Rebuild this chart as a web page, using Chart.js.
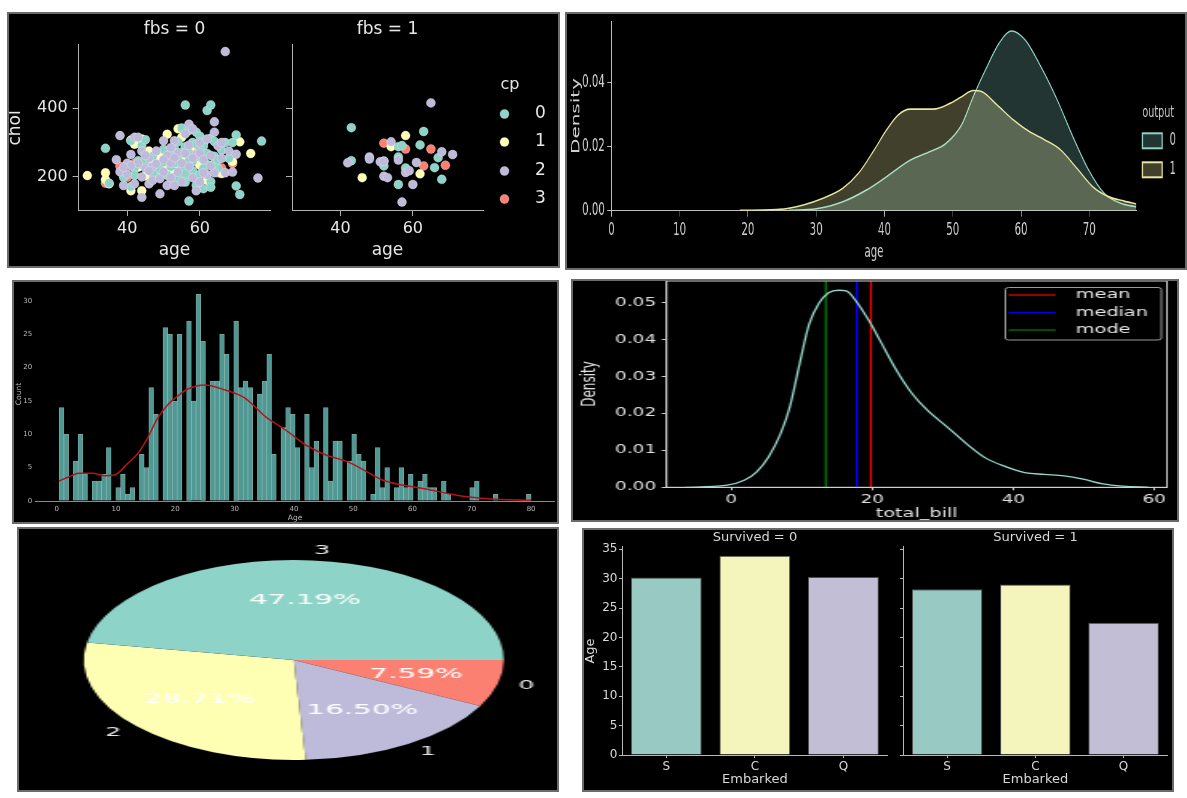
<!DOCTYPE html>
<html>
<head>
<meta charset="utf-8">
<script src="https://cdn.jsdelivr.net/npm/chart.js@4.4.1/dist/chart.umd.min.js"></script>
<style>
  html, body { margin: 0; padding: 0; background: #fff; width: 1187px; height: 798px; overflow: hidden; }
  .panel { position: absolute; background: #000; overflow: hidden; }
  .panel::after { content: ''; position: absolute; left: 0; top: 0; right: 0; bottom: 0; border: 2px solid #6b6b6b; pointer-events: none; }
  .panel canvas { position: absolute; left: 0; top: 0; transform-origin: 0 0; }
</style>
</head>
<body>
<div class="panel" style="left:7px;top:12px;width:553px;height:256px">
  <canvas id="fbs0" width="553" height="256"></canvas>
  <canvas id="fbs1" width="553" height="256"></canvas>
</div>
<div class="panel" style="left:565px;top:12px;width:622px;height:258px">
  <canvas id="ageKde" width="1037" height="258" style="transform:scaleX(0.6)"></canvas>
</div>
<div class="panel" style="left:12px;top:280px;width:547px;height:244px">
  <canvas id="ageHist" width="547" height="244"></canvas>
</div>
<div class="panel" style="left:571px;top:279px;width:608px;height:243px">
  <canvas id="billKde" width="380" height="243" style="transform:scaleX(1.6)"></canvas>
</div>
<div class="panel" style="left:17px;top:527px;width:542px;height:265px">
  <canvas id="pie" width="258" height="265" style="transform:scaleX(2.1)"></canvas>
</div>
<div class="panel" style="left:582px;top:528px;width:592px;height:264px">
  <canvas id="died" width="592" height="264"></canvas>
  <canvas id="surv" width="592" height="264"></canvas>
</div>
<script>
// ---------- data ----------
// heart: age vs chol, split by fbs, coloured by cp  ([age, chol])
const cpNames = ['0', '1', '2', '3'];
const cpColors = ['#8dd3c7', '#ffffb3', '#bebada', '#fb8072'];
const fbs0Cp0 = [[34,283],[35,182],[39,199],[41,172],[41,305],[42,226],[43,247],[44,290],[44,235],[45,308],
  [46,228],[47,260],[48,200],[49,222],[50,243],[51,265],[51,205],[52,230],[53,282],[53,200],
  [54,255],[54,302],[55,226],[55,342],[56,409],[56,288],[56,185],[57,130],[57,335],[57,270],
  [58,218],[58,300],[58,245],[59,176],[59,330],[60,258],[60,207],[61,166],[61,290],[62,393],
  [63,409],[62,236],[63,312],[63,186],[64,260],[64,303],[65,225],[66,278],[67,300],[68,254],
  [69,300],[70,322],[70,174],[71,149],[77,304],[63,170],[60,318],
  [50,280],[52,262],[53,240],[55,270],[57,248],[58,262],[59,295],[60,280],[61,225],[62,268],
  [64,240],[65,250],[54,195],[56,210],[45,248],[47,212],[42,205]];
const fbs0Cp1 = [[29,204],[34,212],[34,192],[35,180],[41,307],[41,160],[42,295],[44,160],[44,310],[45,203],
  [46,275],[48,220],[49,260],[51,324],[52,215],[53,195],[54,340],[55,315],[56,250],[57,220],
  [58,290],[60,235],[61,300],[62,190],[66,210],[69,245],[71,302],[74,268],
  [50,230],[54,235],[56,285],[57,258],[59,245],[47,245],[43,228]];
const fbs0Cp2 = [[37,250],[38,215],[38,320],[39,175],[40,208],[40,240],[41,265],[42,315],[42,180],[43,240],
  [43,315],[44,141],[44,275],[45,225],[46,180],[46,255],[47,230],[47,190],[48,275],[49,151],
  [49,195],[50,305],[50,215],[51,175],[51,262],[52,240],[52,198],[53,305],[54,214],[54,270],
  [55,185],[56,325],[57,353],[57,230],[58,198],[58,340],[59,264],[60,185],[60,270],[61,250],
  [62,206],[63,262],[64,330],[64,212],[64,360],[65,290],[66,254],[67,564],[67,212],[68,275],
  [69,214],[70,266],[76,197],[59,160],[53,175],[45,263],
  [46,218],[48,238],[50,250],[52,285],[53,256],[55,240],[56,268],[57,292],[58,255],[60,300],
  [61,212],[63,232],[66,300],[44,200],[41,232],[39,228],[62,310]];
const fbs0Cp3 = [[34,182],[38,231],[40,199],[42,240],[45,263],[51,209],[52,185],[56,195],[58,283],[59,260],
  [59,205],[60,234],[61,240],[64,226],[66,226],[69,239],[65,212],[59,288],[54,262],[57,225],[48,252]];
const fbs1Cp0 = [[43,343],[43,247],[52,232],[52,246],[56,288],[57,291],[56,258],[58,226],[56,178],[62,293],
  [63,332],[66,227],[67,256],[68,193]];
const fbs1Cp1 = [[46,198],[54,288],[58,320],[62,209]];
const fbs1Cp2 = [[42,241],[48,258],[48,252],[51,244],[52,202],[53,198],[54,302],[56,249],[58,213],[59,218],
  [60,178],[57,127],[61,242],[65,415],[68,273],[71,265],[52,245]];
const fbs1Cp3 = [[52,298],[58,281],[63,232],[65,281],[69,234]];

// heart: age density by output
const outputNames = ['0', '1'];
const out0Age = [26, 30, 33.9, 37.4, 40.3, 43.8, 46.6, 49, 51.3, 53, 54.8, 56.8, 58.6, 60.6, 62.9, 65.3, 67.6, 69.9, 72.2, 74.6, 76.9];
const out0Density = [0.0001, 0.0006, 0.0028, 0.0065, 0.0106, 0.0158, 0.0184, 0.0210, 0.0268, 0.0356, 0.0440, 0.0523, 0.0561, 0.0533, 0.0450, 0.0346, 0.0231, 0.0127, 0.0054, 0.0023, 0.0012];
const out1Age = [18.8, 24.6, 28.1, 31, 33.9, 36.2, 38.5, 40.3, 42, 43.8, 47.2, 49.6, 51.3, 53, 54.2, 56.5, 58.9, 61.2, 63.5, 65.8, 68.2, 70.5, 72.8, 75.1, 76.9];
const out1Density = [0.0001, 0.0004, 0.0018, 0.0039, 0.0070, 0.0117, 0.0190, 0.0252, 0.0299, 0.0317, 0.0317, 0.0335, 0.0356, 0.0375, 0.0372, 0.0330, 0.0283, 0.0247, 0.0221, 0.0190, 0.0132, 0.0075, 0.0044, 0.0030, 0.0021];

// titanic: Age histogram, 100 bins from 0.42 to 80, plus kde
const ageMin = 0.42, ageMax = 80;
const ageCounts = [
  14, 10, 0, 6, 10, 4, 0, 3, 3, 4,
  8, 0, 2, 4, 1, 2, 0, 7, 5, 17,
  13, 0, 26, 25, 15, 25, 0, 27, 15, 31,
  24, 0, 18, 18, 25, 22, 0, 27, 17, 18,
  17, 0, 16, 18, 22, 7, 0, 11, 14, 13,
  8, 0, 13, 5, 9, 0, 14, 3, 9, 9,
  0, 6, 10, 7, 6, 0, 1, 8, 2, 5,
  0, 2, 5, 2, 4, 0, 3, 4, 2, 2,
  0, 3, 1, 0, 0, 0, 0, 2, 3, 0,
  0, 0, 1, 0, 0, 0, 0, 0, 0, 1];
const kdeAge = [0.42, 2, 3.7, 6, 8.1, 9.5, 10.3, 12, 13.7, 15.3, 17, 18.7, 20.4, 22.1, 25, 28.4, 31.8, 35.2, 38.6, 42, 45.4, 49, 52.8, 54.9, 58.3, 62.3, 66.3, 70, 73.3, 80];
const kdeCount = [3.0, 3.6, 4.15, 4.15, 3.8, 3.85, 4.15, 5.65, 7.15, 9.4, 12.4, 14.4, 15.75, 16.8, 17.4, 16.65, 15.4, 12.65, 10.65, 8.4, 6.9, 5.9, 4.15, 3.15, 2.4, 1.8, 1.05, 0.55, 0.3, 0.1];

// tips: total_bill density with mean / median / mode
const billX = [-6.5, -0.8, 1.9, 3.6, 5.3, 7.0, 8.3, 9.7, 11.0, 12.4, 13.8, 15.2, 16.3, 17.6, 19.6, 21.2, 23.4, 25.6, 27.8, 30.6, 33.3, 36.1, 38.9, 41.6, 44.4, 47.2, 49.9, 52.7, 55.5, 59.2];
const billDensity = [0.0000, 0.0005, 0.0020, 0.0042, 0.0083, 0.0146, 0.0218, 0.0336, 0.0440, 0.0498, 0.0527, 0.0534, 0.0532, 0.0507, 0.0449, 0.0394, 0.0318, 0.0255, 0.0209, 0.0164, 0.0119, 0.0079, 0.0056, 0.0040, 0.0035, 0.0031, 0.0022, 0.0009, 0.0003, 0.0000];
const statNames = ['mean', 'median', 'mode'];
const statValues = [19.8, 17.8, 13.4];
const statColors = ['#ff0000', '#0000ff', '#008000'];

// pie shares
const pieNames = ['0', '1', '2', '3'];
const pieShares = [7.59, 16.50, 28.71, 47.19];
const pieColors = ['#fb8072', '#bebada', '#ffffb3', '#8dd3c7'];

// titanic: mean Age by Embarked, split by Survived
const embarked = ['S', 'C', 'Q'];
const ageDied = [30.2, 33.9, 30.3];
const ageSurvived = [28.2, 29.0, 22.5];
const barColors = ['#98c9c2', '#f4f5bc', '#c2bed6'];

// ---------- helpers ----------
Chart.defaults.font.family = "'DejaVu Sans', sans-serif";
Chart.defaults.animation = false;
Chart.defaults.responsive = false;
Chart.defaults.devicePixelRatio = 1;
Chart.defaults.events = [];
Chart.defaults.plugins.legend.display = false;
Chart.defaults.plugins.tooltip.enabled = false;

// pin the chart area to [l, t, r, b] inside a W x H canvas
function pin(W, H, l, t, r, b) {
  return {
    padding: { left: 0, top: t, right: W - r, bottom: 0 },
    xFit: s => { s.height = H - b; s.paddingLeft = 0; s.paddingRight = 0; },
    yFit: s => { s.width = l; s.paddingTop = 0; s.paddingBottom = 0; }
  };
}
function tickMarks(len, color) {
  return { display: true, drawOnChartArea: false, drawTicks: len > 0, tickLength: len, color: color, offset: false };
}
function spine(color, show) {
  return { display: show !== false, color: color, width: 1 };
}
function texts(id, items, color) {
  return {
    id: id,
    afterDraw(chart) {
      const ctx = chart.ctx;
      items.forEach(it => {
        ctx.save();
        ctx.font = it.s + "px 'DejaVu Sans'";
        ctx.fillStyle = it.c || color;
        ctx.textAlign = it.a || 'center';
        ctx.textBaseline = 'middle';
        ctx.translate(it.x, it.y);
        if (it.r) ctx.rotate(-Math.PI / 2);
        ctx.fillText(it.t, 0, 0);
        ctx.restore();
      });
    }
  };
}
const toXY = pairs => pairs.map(p => ({ x: p[0], y: p[1] }));
const zipXY = (xs, ys) => xs.map((x, i) => ({ x: x, y: ys[i] }));

// ---------- panel A: scatter fbs = 0 / fbs = 1 ----------
function cpSets(groups) {
  const order = [2, 0, 1, 3];
  return order.map(k => ({
    data: toXY(groups[k]),
    pointRadius: 4.5,
    pointBackgroundColor: cpColors[k],
    pointBorderColor: 'rgba(255,255,255,0.55)',
    pointBorderWidth: 0.5
  }));
}
function scatterOpts(box, showY) {
  return {
    layout: { padding: box.padding },
    scales: {
      x: {
        type: 'linear', min: 26.6, max: 79.4, afterFit: box.xFit,
        ticks: { stepSize: 20, includeBounds: false, color: '#e6e6e6', font: { size: 16 }, padding: 3, maxRotation: 0 },
        grid: tickMarks(6, '#b0b0b0'), border: spine('#b0b0b0')
      },
      y: {
        min: 104, max: 586, afterFit: box.yFit,
        ticks: { display: showY, stepSize: 200, includeBounds: false, color: '#e6e6e6', font: { size: 16 }, padding: 5 },
        grid: tickMarks(6, '#b0b0b0'), border: spine('#b0b0b0')
      }
    }
  };
}
new Chart(document.getElementById('fbs0'), {
  type: 'scatter',
  data: { datasets: cpSets([fbs0Cp0, fbs0Cp1, fbs0Cp2, fbs0Cp3]) },
  options: scatterOpts(pin(553, 256, 71.6, 32, 263.3, 198), true)
});
const cpLegend = {
  id: 'cpLegend',
  afterDraw(chart) {
    const ctx = chart.ctx;
    const ys = [102, 130, 159, 187];
    cpNames.forEach((n, i) => {
      ctx.beginPath();
      ctx.arc(497.5, ys[i], 4.5, 0, Math.PI * 2);
      ctx.fillStyle = cpColors[i];
      ctx.fill();
      ctx.lineWidth = 0.5;
      ctx.strokeStyle = 'rgba(255,255,255,0.55)';
      ctx.stroke();
    });
  }
};
new Chart(document.getElementById('fbs1'), {
  type: 'scatter',
  data: { datasets: cpSets([fbs1Cp0, fbs1Cp1, fbs1Cp2, fbs1Cp3]) },
  options: scatterOpts(pin(553, 256, 285, 32, 476, 198), false),
  plugins: [cpLegend, texts('txtA', [
    { t: 'fbs = 0', x: 167.5, y: 18, s: 17 },
    { t: 'fbs = 1', x: 380.5, y: 18, s: 17 },
    { t: 'chol', x: 9, y: 116, s: 17, r: true },
    { t: 'age', x: 167.5, y: 239, s: 17 },
    { t: 'age', x: 380.5, y: 239, s: 17 },
    { t: 'cp', x: 503, y: 73, s: 16 },
    { t: cpNames[0], x: 533.5, y: 102, s: 17 },
    { t: cpNames[1], x: 533.5, y: 130, s: 17 },
    { t: cpNames[2], x: 533.5, y: 159, s: 17 },
    { t: cpNames[3], x: 533.5, y: 187, s: 17 }
  ], '#e6e6e6')]
});

// ---------- panel B: age density by output ----------
const outLine = ['#8dd3c7', '#e8e6a0'];
const outFill = ['rgba(141,211,199,0.25)', 'rgba(255,255,179,0.25)'];
const boxB = pin(1037, 258, 77.3, 9.7, 952.3, 198.7);
const outLegend = {
  id: 'outLegend',
  afterDraw(chart) {
    const ctx = chart.ctx;
    const ys = [121.3, 150.3];
    outputNames.forEach((n, i) => {
      ctx.fillStyle = outFill[i];
      ctx.fillRect(962.3, ys[i], 33, 15);
      ctx.strokeStyle = outLine[i];
      ctx.lineWidth = 2;
      ctx.strokeRect(962.3, ys[i], 33, 15);
    });
  }
};
new Chart(document.getElementById('ageKde'), {
  type: 'line',
  data: {
    datasets: [
      { data: zipXY(out1Age, out1Density), borderColor: outLine[1], backgroundColor: outFill[1], fill: 'origin', borderWidth: 1.6, pointRadius: 0, cubicInterpolationMode: 'monotone' },
      { data: zipXY(out0Age, out0Density), borderColor: outLine[0], backgroundColor: outFill[0], fill: 'origin', borderWidth: 1.6, pointRadius: 0, cubicInterpolationMode: 'monotone' }
    ]
  },
  options: {
    layout: { padding: boxB.padding },
    scales: {
      x: {
        type: 'linear', min: 0, max: 76.9, afterFit: boxB.xFit,
        ticks: { stepSize: 10, includeBounds: false, color: '#cfcfcf', font: { size: 17 }, padding: 4, maxRotation: 0 },
        grid: tickMarks(6, '#bdbdbd'), border: spine('#bdbdbd')
      },
      y: {
        min: 0, max: 0.059, afterFit: boxB.yFit,
        ticks: { stepSize: 0.02, includeBounds: false, color: '#cfcfcf', font: { size: 17 }, padding: 4, callback: v => v.toFixed(2) },
        grid: tickMarks(7, '#bdbdbd'), border: spine('#bdbdbd')
      }
    }
  },
  plugins: [outLegend, texts('txtB', [
    { t: 'Density', x: 18.3, y: 104, s: 20, r: true },
    { t: 'age', x: 514.8, y: 241, s: 17 },
    { t: 'output', x: 988.7, y: 101.3, s: 16 },
    { t: outputNames[0], x: 1013, y: 128.8, s: 17 },
    { t: outputNames[1], x: 1013, y: 157.8, s: 17 }
  ], '#cfcfcf')]
});

// ---------- panel C: titanic Age histogram ----------
const binWidth = (ageMax - ageMin) / ageCounts.length;
const boxC = pin(547, 244, 23.6, 4, 542.7, 221);
new Chart(document.getElementById('ageHist'), {
  type: 'bar',
  data: {
    datasets: [
      { type: 'line', data: zipXY(kdeAge, kdeCount), borderColor: '#b3141a', borderWidth: 1.5, pointRadius: 0, cubicInterpolationMode: 'monotone', fill: false },
      { type: 'bar', data: ageCounts.map((c, i) => ({ x: ageMin + (i + 0.5) * binWidth, y: c })),
        backgroundColor: '#4f9995', borderColor: 'rgba(170,220,214,0.75)', borderWidth: 0.8,
        barPercentage: 1, categoryPercentage: 1, grouped: false }
    ]
  },
  options: {
    layout: { padding: boxC.padding },
    scales: {
      x: {
        type: 'linear', min: -3.56, max: 83.98, offset: false, afterFit: boxC.xFit,
        ticks: { stepSize: 10, includeBounds: false, color: '#b8b8b8', font: { size: 7 }, padding: 4, maxRotation: 0 },
        grid: tickMarks(0, '#888'), border: spine('#8a8a8a')
      },
      y: {
        min: 0, max: 32.55, afterFit: boxC.yFit,
        ticks: { stepSize: 5, includeBounds: false, color: '#b8b8b8', font: { size: 7 }, padding: 3.5 },
        grid: tickMarks(0, '#888'), border: spine('#8a8a8a', false)
      }
    }
  },
  plugins: [texts('txtC', [
    { t: 'Count', x: 7.3, y: 114, s: 7.5, r: true },
    { t: 'Age', x: 283, y: 238, s: 7.5 }
  ], '#b8b8b8')]
});

// ---------- panel D: total_bill density ----------
const billTop = 0.0559;
const boxD = pin(380, 243, 59.7, 2, 372.5, 208.3);
const billFrame = {
  id: 'billFrame',
  afterDraw(chart) {
    const ctx = chart.ctx;
    const a = chart.chartArea;
    ctx.save();
    ctx.strokeStyle = '#d0d0d0';
    ctx.lineWidth = 1;
    ctx.strokeRect(a.left, a.top, a.right - a.left, a.bottom - a.top);
    // legend
    ctx.fillStyle = 'rgba(0,0,0,0.85)';
    ctx.strokeStyle = '#9a9a9a';
    ctx.beginPath();
    if (ctx.roundRect) ctx.roundRect(271.5, 8.5, 97.5, 52.5, 2); else ctx.rect(271.5, 8.5, 97.5, 52.5);
    ctx.fill();
    ctx.stroke();
    const ys = [16, 33.7, 51];
    statNames.forEach((n, i) => {
      ctx.strokeStyle = statColors[i];
      ctx.lineWidth = 1.2;
      ctx.beginPath();
      ctx.moveTo(273.5, ys[i]);
      ctx.lineTo(303, ys[i]);
      ctx.stroke();
      ctx.fillStyle = '#e6e6e6';
      ctx.font = "12px 'DejaVu Sans'";
      ctx.textAlign = 'left';
      ctx.textBaseline = 'middle';
      ctx.fillText(n, 315.6, ys[i]);
    });
    ctx.restore();
  }
};
new Chart(document.getElementById('billKde'), {
  type: 'line',
  data: {
    datasets: [
      { data: zipXY(billX, billDensity), borderColor: '#94d8cd', borderWidth: 1.3, pointRadius: 0, cubicInterpolationMode: 'monotone' }
    ].concat(statValues.map((v, i) => ({
      data: [{ x: v, y: 0 }, { x: v, y: billTop }], borderColor: statColors[i], borderWidth: 1.25, pointRadius: 0
    })))
  },
  options: {
    layout: { padding: boxD.padding },
    scales: {
      x: {
        type: 'linear', min: -9.2, max: 61.8, afterFit: boxD.xFit,
        ticks: { stepSize: 20, includeBounds: false, color: '#e0e0e0', font: { size: 11.5 }, padding: 3, maxRotation: 0 },
        grid: tickMarks(3, '#d0d0d0'), border: spine('#d0d0d0')
      },
      y: {
        min: 0, max: billTop, afterFit: boxD.yFit,
        ticks: { stepSize: 0.01, includeBounds: false, color: '#e0e0e0', font: { size: 11.5 }, padding: 3.5, callback: v => v.toFixed(2) },
        grid: tickMarks(3, '#d0d0d0'), border: spine('#d0d0d0')
      }
    }
  },
  plugins: [billFrame, texts('txtD', [
    { t: 'Density', x: 11.9, y: 105, s: 12, r: true },
    { t: 'total_bill', x: 216.1, y: 235, s: 12 }
  ], '#e0e0e0')]
});

// ---------- panel E: pie ----------
const pieLabels = {
  id: 'pieLabels',
  afterDatasetsDraw(chart) {
    const ctx = chart.ctx;
    chart.getDatasetMeta(0).data.forEach((arc, i) => {
      const mid = (arc.startAngle + arc.endAngle) / 2;
      const r = arc.outerRadius;
      const c = Math.cos(mid), s = Math.sin(mid);
      ctx.save();
      ctx.textBaseline = 'middle';
      ctx.fillStyle = '#ffffff';
      ctx.font = "14px 'DejaVu Sans'";
      ctx.textAlign = 'center';
      ctx.fillText(pieShares[i].toFixed(2) + '%', arc.x + 0.6 * r * c, arc.y + 0.6 * r * s);
      ctx.fillStyle = '#e8e8e8';
      ctx.font = "12px 'DejaVu Sans'";
      ctx.textAlign = c < 0 ? 'right' : 'left';
      ctx.fillText(pieNames[i], arc.x + 1.1 * r * c, arc.y + 1.1 * r * s);
      ctx.restore();
    });
  }
};
new Chart(document.getElementById('pie'), {
  type: 'pie',
  data: { labels: pieNames, datasets: [{ data: pieShares, backgroundColor: pieColors, borderWidth: 0 }] },
  options: {
    rotation: 90,
    layout: { padding: { left: 31.8, right: 26.2, top: 33, bottom: 32 } }
  },
  plugins: [pieLabels]
});

// ---------- panel F: mean Age by Embarked ----------
function barOpts(box, showY) {
  return {
    layout: { padding: box.padding },
    scales: {
      x: {
        afterFit: box.xFit,
        ticks: { color: '#d8d8d8', font: { size: 12 }, padding: 2 },
        grid: tickMarks(3, '#b8b8b8'), border: spine('#b8b8b8')
      },
      y: {
        min: 0, max: 35.44, afterFit: box.yFit,
        ticks: { display: showY, stepSize: 5, includeBounds: false, color: '#d8d8d8', font: { size: 12 }, padding: 1.5 },
        grid: tickMarks(3, '#b8b8b8'), border: spine('#b8b8b8')
      }
    }
  };
}
function barSet(values) {
  return { labels: embarked, datasets: [{ data: values, backgroundColor: barColors, borderColor: 'rgba(230,230,230,0.35)', borderWidth: 1, barPercentage: 0.8, categoryPercentage: 1 }] };
}
new Chart(document.getElementById('died'), {
  type: 'bar',
  data: barSet(ageDied),
  options: barOpts(pin(592, 264, 40, 18.7, 305.7, 227), true)
});
new Chart(document.getElementById('surv'), {
  type: 'bar',
  data: barSet(ageSurvived),
  options: barOpts(pin(592, 264, 321, 18.7, 585.7, 227), false),
  plugins: [texts('txtF', [
    { t: 'Survived = 0', x: 172.9, y: 9.7, s: 13 },
    { t: 'Survived = 1', x: 453.4, y: 9.7, s: 13 },
    { t: 'Age', x: 8.5, y: 123, s: 13, r: true },
    { t: 'Embarked', x: 172.9, y: 252, s: 13 },
    { t: 'Embarked', x: 453.4, y: 252, s: 13 }
  ], '#d8d8d8')]
});
</script>
</body>
</html>
